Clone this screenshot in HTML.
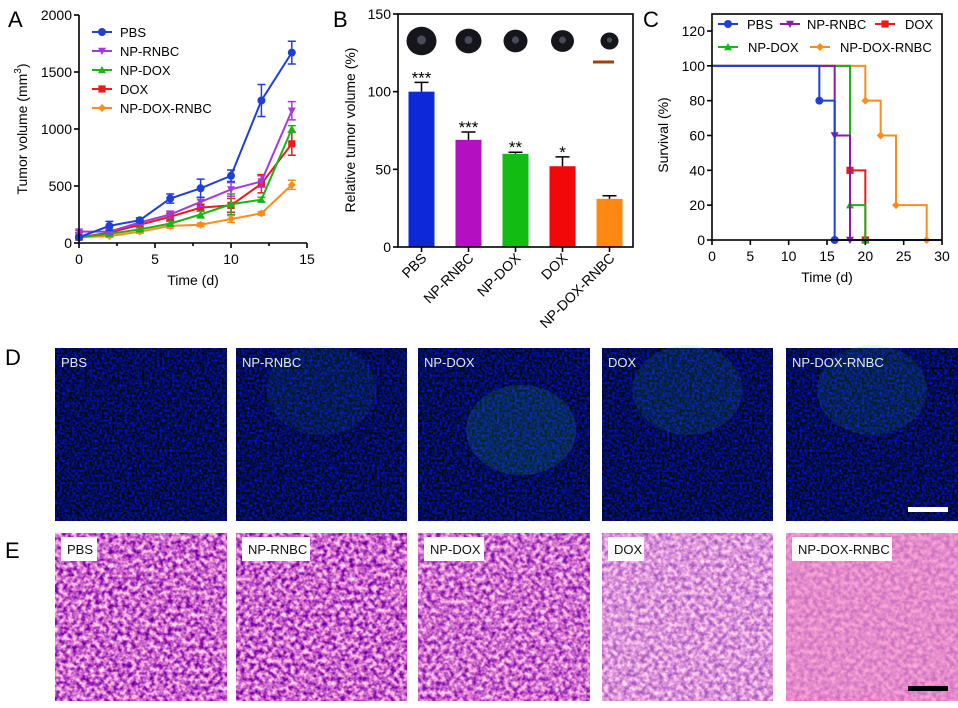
<!DOCTYPE html>
<html><head><meta charset="utf-8"><style>
body{margin:0;background:#fff;}
svg{display:block;font-family:"Liberation Sans",sans-serif;}
</style></head><body>
<svg id="fig" width="958" height="708" viewBox="0 0 958 708" xmlns="http://www.w3.org/2000/svg">
<defs>
<filter id="fluo" x="0" y="0" width="100%" height="100%" color-interpolation-filters="sRGB">
<feTurbulence type="fractalNoise" baseFrequency="0.4" numOctaves="2" seed="3" result="n"/>
<feColorMatrix in="n" type="matrix" values="0 0 0 0 0  0.1 0 0 0 0  1.8 0 0 0 -0.55  0 0 0 0 1"/>
</filter>
<filter id="he" x="0" y="0" width="100%" height="100%" color-interpolation-filters="sRGB">
<feTurbulence type="fractalNoise" baseFrequency="0.22" numOctaves="2" seed="7" result="n"/>
<feColorMatrix in="n" type="matrix" values="-1.4 0 0 0 1.5  -1.8 0 0 0 1.3  -0.6 0 0 0 1.1  0 0 0 0 1"/>
</filter>
</defs>
<g id="panelA"></g>
<g id="panelB"></g>
<g id="panelC"></g>
<g id="panelD"></g>
<g id="panelE"></g>
</svg>
<script>
const NS="http://www.w3.org/2000/svg";
function mk(p,tag,a,txt){const e=document.createElementNS(NS,tag);for(const k in a)e.setAttribute(k,a[k]);if(txt!==undefined)e.textContent=txt;p.appendChild(e);return e;}

// ---------- Panel A data ----------
const aDays=[0,2,4,6,8,10,12,14];
const aNames=["PBS","NP-RNBC","NP-DOX","DOX","NP-DOX-RNBC"];
const aColors=["#1f3fd8","#a23ae0","#18b418","#f01818","#ff8c1a"];
const aPBS=[50,150,200,390,480,590,1250,1670];
const aRNBC=[100,100,180,250,360,470,540,1160];
const aNPDOX=[50,80,120,170,250,340,380,1000];
const aDOX=[50,90,160,230,310,330,520,870];
const aCombo=[50,60,100,150,160,210,260,510];
const aErrPBS=[10,40,20,40,80,50,140,100];
const aErrRNBC=[10,20,20,30,40,60,50,80];
const aErrNPDOX=[10,15,15,20,30,90,20,30];
const aErrDOX=[10,15,20,30,30,60,80,100];
const aErrCombo=[10,10,15,20,15,30,15,40];
const aXTicks=[0,5,10,15];
const aYTicks=[0,500,1000,1500,2000];

// ---------- Panel B data ----------
const bNames=["PBS","NP-RNBC","NP-DOX","DOX","NP-DOX-RNBC"];
const bValues=[100,69,60,52,31];
const bErrors=[6,5,1,6,2];
const bStars=["***","***","**","*",""];
const bColors=["#0c28d8","#b40fc0","#12bc12","#f20808","#ff8812"];
const bYTicks=[0,50,100,150];

// ---------- Panel C data ----------
const cNames=["PBS","NP-RNBC","DOX","NP-DOX","NP-DOX-RNBC"];
const cColors=["#1f3fd8","#8a1aa8","#f01818","#18b418","#ff8c1a"];
const cTimesPBS=[0,14,16];const cSurvPBS=[100,80,0];
const cTimesRNBC=[0,16,18];const cSurvRNBC=[100,60,0];
const cTimesDOX=[0,18,20];const cSurvDOX=[100,40,0];
const cTimesNPDOX=[0,18,20];const cSurvNPDOX=[100,20,0];
const cTimesCombo=[0,20,22,24,28];const cSurvCombo=[100,80,60,20,0];
const cXTicks=[0,5,10,15,20,25,30];
const cYTicks=[0,20,40,60,80,100,120];

function marker(g,shape,x,y,c,s){
  s=s||4;let e;
  if(shape==="circle")e=mk(g,"circle",{cx:x,cy:y,r:s,fill:c});
  else if(shape==="tdown")e=mk(g,"polygon",{points:`${x-s},${y-s*0.8} ${x+s},${y-s*0.8} ${x},${y+s}`,fill:c});
  else if(shape==="tup")e=mk(g,"polygon",{points:`${x-s},${y+s*0.8} ${x+s},${y+s*0.8} ${x},${y-s}`,fill:c});
  else if(shape==="square")e=mk(g,"rect",{x:x-s*0.9,y:y-s*0.9,width:s*1.8,height:s*1.8,fill:c});
  else e=mk(g,"polygon",{points:`${x},${y-s} ${x+s},${y} ${x},${y+s} ${x-s},${y}`,fill:c});
  
  
  return e;
}

// ---------- Draw A ----------
(function(){
  const g=document.getElementById("panelA");
  const x0=79,x1=307,y0=243,y1=15;
  const sx=v=>x0+v*(x1-x0)/15, sy=v=>y0-v*(y0-y1)/2000;
  const t=mk(g,"text",{x:8,y:27,"font-size":22},"A");
  
  const series=[aPBS,aRNBC,aNPDOX,aDOX,aCombo];
  const errs=[aErrPBS,aErrRNBC,aErrNPDOX,aErrDOX,aErrCombo];
  const shapes=["circle","tdown","tup","square","diamond"];
  for(let s=series.length-1;s>=0;s--){
    const sg=mk(g,"g",{});
    
    
    const pts=aDays.map((d,i)=>sx(d)+","+sy(series[s][i])).join(" ");
    mk(sg,"polyline",{points:pts,fill:"none",stroke:aColors[s],"stroke-width":2});
    aDays.forEach((d,i)=>{
      const x=sx(d),yt=sy(series[s][i]+errs[s][i]),yb=sy(series[s][i]-errs[s][i]);
      mk(sg,"path",{d:`M${x},${yt}V${yb}M${x-4},${yt}H${x+4}M${x-4},${yb}H${x+4}`,stroke:aColors[s],"stroke-width":1.5,fill:"none"});
      marker(sg,shapes[s],x,sy(series[s][i]),aColors[s],4);
    });
  }
  const ax=mk(g,"g",{stroke:"#000","stroke-width":1.6,fill:"none"});
  
  mk(ax,"path",{d:`M${x0},${y1}V${y0}H${x1}`});
  aYTicks.forEach(v=>{mk(ax,"path",{d:`M${x0-5},${sy(v)}H${x0}`});
    const l=mk(g,"text",{x:x0-7,y:sy(v)+5,"font-size":14,"text-anchor":"end"},v);
    });
  for(let v=0;v<=15;v+=2.5){mk(ax,"path",{d:`M${sx(v)},${y0}V${y0+(v%5===0?5:3)}`});}
  aXTicks.forEach(v=>{const l=mk(g,"text",{x:sx(v),y:264,"font-size":14,"text-anchor":"middle"},v);
    });
  const xt=mk(g,"text",{x:193,y:285,"font-size":14,"text-anchor":"middle"},"Time (d)");
  
  const yt=mk(g,"text",{transform:"translate(27,129) rotate(-90)","font-size":14,"text-anchor":"middle"});
  
  yt.innerHTML='Tumor volume (mm<tspan dy="-6" font-size="10">3</tspan><tspan dy="6">)</tspan>';
  const ly=[32,51,70,89,108];
  aNames.forEach((n,i)=>{
    const lg=mk(g,"g",{});
    
    mk(lg,"line",{x1:92,x2:112,y1:ly[i],y2:ly[i],stroke:aColors[i],"stroke-width":2});
    marker(lg,shapes[i],102,ly[i],aColors[i],4);
    mk(lg,"text",{x:120,y:ly[i]+5,"font-size":13},n);
  });
})();

// ---------- Draw B ----------
(function(){
  const g=document.getElementById("panelB");
  const x0=398,x1=633,y0=247,y1=14;
  const sy=v=>y0-v*(y0-y1)/150;
  const t=mk(g,"text",{x:333,y:27,"font-size":22},"B");
  
  const bw=(x1-x0)/5;
  const blobR=[15,13,12,11.5,9];
  bValues.forEach((v,i)=>{
    const cx=x0+bw*(i+0.5);
    const bg=mk(g,"g",{});
    
    mk(bg,"rect",{x:cx-13,y:sy(v),width:26,height:sy(0)-sy(v),fill:bColors[i]});
    const ye=sy(v+bErrors[i]);
    mk(bg,"path",{d:`M${cx},${sy(v)}V${ye}M${cx-7},${ye}H${cx+7}`,stroke:"#000","stroke-width":1.5,fill:"none"});
    if(bStars[i]){const s=mk(g,"text",{x:cx,y:ye+1,"font-size":17,"text-anchor":"middle"},bStars[i]);
      }
    const lb=mk(g,"text",{transform:`translate(${cx+6},${y0+12}) rotate(-45)`,"font-size":14,"text-anchor":"end"},bNames[i]);
    
    const tm=mk(g,"ellipse",{cx:cx,cy:41,rx:blobR[i],ry:blobR[i]*0.95,fill:"#15151c"});
    
    mk(g,"circle",{cx:cx,cy:40,r:blobR[i]*0.3,fill:"#6a7080",opacity:0.6});
  });
  const sb=mk(g,"line",{x1:593,x2:614,y1:62,y2:62,stroke:"#a04010","stroke-width":3});
  
  const ax=mk(g,"g",{stroke:"#000","stroke-width":1.6,fill:"none"});
  
  mk(ax,"rect",{x:x0,y:y1,width:x1-x0,height:y0-y1});
  bYTicks.forEach(v=>{mk(ax,"path",{d:`M${x0-5},${sy(v)}H${x0}`});
    const l=mk(g,"text",{x:x0-7,y:sy(v)+5,"font-size":14,"text-anchor":"end"},v);
    });
  for(let i=0;i<5;i++){const cx=x0+bw*(i+0.5);mk(ax,"path",{d:`M${cx},${y0}V${y0+5}`});}
  const yt=mk(g,"text",{transform:"translate(355,130) rotate(-90)","font-size":14,"text-anchor":"middle"},"Relative tumor volume (%)");
  
})();

// ---------- Draw C ----------
(function(){
  const g=document.getElementById("panelC");
  const x0=712,x1=942,y0=240,y1=14;
  const sx=v=>x0+v*(x1-x0)/30, sy=v=>y0-v*(240-31)/120;
  const t=mk(g,"text",{x:643,y:27,"font-size":22},"C");
  
  const times=[cTimesPBS,cTimesRNBC,cTimesDOX,cTimesNPDOX,cTimesCombo];
  const surv=[cSurvPBS,cSurvRNBC,cSurvDOX,cSurvNPDOX,cSurvCombo];
  const shapes=["circle","tdown","square","tup","diamond"];
  const order=[4,2,3,1,0];
  order.forEach(s=>{
    const sg=mk(g,"g",{});
    
    let d=`M${sx(times[s][0])},${sy(surv[s][0])}`;
    for(let i=1;i<times[s].length;i++){d+=`H${sx(times[s][i])}V${sy(surv[s][i])}`;}
    if(surv[s][surv[s].length-1]===0)d+=`H${sx(30)}`;
    mk(sg,"path",{d:d,fill:"none",stroke:cColors[s],"stroke-width":2});
    for(let i=1;i<times[s].length;i++)marker(sg,shapes[s],sx(times[s][i]),sy(surv[s][i]),cColors[s],4);
  });
  const ax=mk(g,"g",{stroke:"#000","stroke-width":1.6,fill:"none"});
  
  mk(ax,"rect",{x:x0,y:y1,width:x1-x0,height:y0-y1});
  cYTicks.forEach(v=>{mk(ax,"path",{d:`M${x0-5},${sy(v)}H${x0}`});
    const l=mk(g,"text",{x:x0-7,y:sy(v)+5,"font-size":14,"text-anchor":"end"},v);
    });
  cXTicks.forEach(v=>{mk(ax,"path",{d:`M${sx(v)},${y0}V${y0+5}`});
    const l=mk(g,"text",{x:sx(v),y:261,"font-size":14,"text-anchor":"middle"},v);
    });
  const xt=mk(g,"text",{x:827,y:282,"font-size":14,"text-anchor":"middle"},"Time (d)");
  
  const yt=mk(g,"text",{transform:"translate(668,135) rotate(-90)","font-size":14,"text-anchor":"middle"},"Survival (%)");
  
  const leg=[[0,728,24,747],[1,790,24,807],[2,885,24,905],[3,728,47,748],[4,820,47,840]];
  leg.forEach(([i,mx,my,tx])=>{
    const lg=mk(g,"g",{});
    
    mk(lg,"line",{x1:mx-10,x2:mx+10,y1:my,y2:my,stroke:cColors[i],"stroke-width":2});
    marker(lg,shapes[i],mx,my,cColors[i],4);
    mk(lg,"text",{x:tx,y:my+5,"font-size":13},cNames[i]);
  });
})();

// ---------- D & E ----------
const imgNames=["PBS","NP-RNBC","NP-DOX","DOX","NP-DOX-RNBC"];
const imgX=[55,236,418,602,786];
const imgW=[172,171,172,171,172];
(function(){
  const g=document.getElementById("panelD");
  const l=mk(g,"text",{x:5,y:365,"font-size":22},"D");
  
  const glow=[0,0.08,0.16,0.12,0.12];
  imgNames.forEach((n,i)=>{
    const ig=mk(g,"g",{});
    
    mk(ig,"rect",{x:imgX[i],y:348,width:imgW[i],height:173,filter:"url(#fluo)"});
    if(glow[i])mk(ig,"ellipse",{cx:imgX[i]+imgW[i]*(i===2?0.6:0.5),cy:i===2?430:390,rx:55,ry:45,fill:"#30c0a0",opacity:glow[i]});
    mk(ig,"text",{x:imgX[i]+6,y:367,"font-size":13,fill:"#e8e8f0"},n);
  });
  const sb=mk(g,"rect",{x:908,y:507,width:40,height:5,fill:"#fff"});
  
})();
(function(){
  const g=document.getElementById("panelE");
  const l=mk(g,"text",{x:5,y:558,"font-size":22},"E");
  
  const fills=["#d890d8","#d080d0","#e0a0dc","#f0d0ec","#ee98cc"];
  const ops=[0.95,0.95,0.85,0.55,0.25];
  imgNames.forEach((n,i)=>{
    const ig=mk(g,"g",{});
    
    mk(ig,"rect",{x:imgX[i],y:533,width:imgW[i],height:168,fill:fills[i]});
    mk(ig,"rect",{x:imgX[i],y:533,width:imgW[i],height:168,filter:"url(#he)",opacity:ops[i]});
    const tw=n.length*8+12;
    mk(ig,"rect",{x:imgX[i]+6,y:537,width:tw,height:24,fill:"#fff"});
    mk(ig,"text",{x:imgX[i]+12,y:554,"font-size":13,fill:"#111"},n);
  });
  const sb=mk(g,"rect",{x:908,y:686,width:40,height:5,fill:"#000"});
  
})();
</script>
</body></html>
